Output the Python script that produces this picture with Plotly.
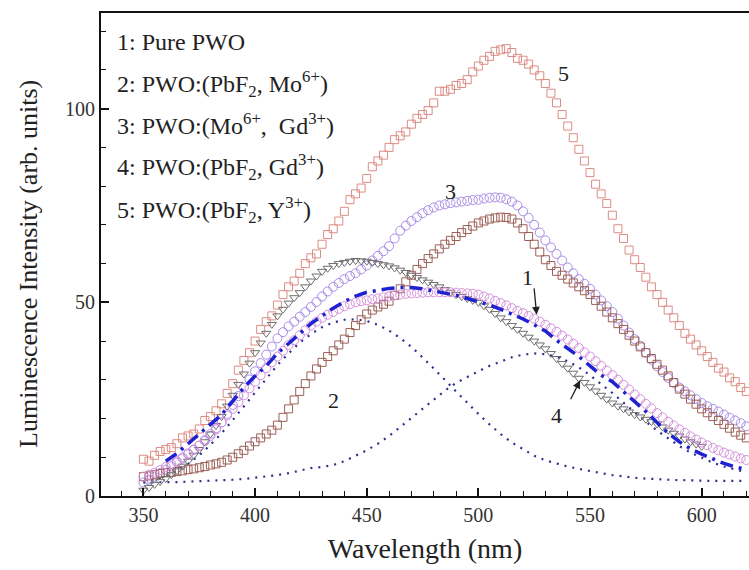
import plotly.graph_objects as go

# ---------------- data ----------------
wavelength = [350 + 2.5 * i for i in range(109)]      # 350 ... 620 nm, 2.5 nm step
wl_pbf2_gd = wavelength[:101]                          # 350 ... 600 nm
wl_coarse = list(range(350, 625, 5))                   # 350 ... 620 nm, 5 nm step
wl_fit = wl_coarse[2:]                                 # 360 ... 620 nm

pbf2_y = [9.5, 9.0, 10.5, 11.5, 12, 12.5, 13.5, 15, 15.5, 16,
          17.3, 19.5, 20.5, 22, 23.8, 26.5, 29, 32.5, 35, 37,
          40, 43, 45, 46.5, 49.3, 52, 54, 55.5, 57.5, 60,
          61.5, 62.5, 65, 67.5, 69, 71, 73.5, 76.5, 78, 79.5,
          82, 85, 86.5, 88, 90, 92, 93, 94, 96, 97.5,
          98.5, 99.5, 101.5, 104.5, 104.5, 105, 106, 106.5, 107.5, 109.5,
          111, 112.5, 113.5, 114.8, 115.2, 115.5, 114.5, 113, 112.5, 111.5,
          110, 108.5, 106.5, 104, 101.5, 98.5, 95.5, 92.5, 89.5, 86.5,
          83.5, 80.5, 78, 75.5, 72.5, 69, 66.5, 63.5, 61, 59,
          56.5, 54, 52, 50, 48, 46, 44, 42, 40.5, 39,
          37.5, 36, 34.5, 33, 32, 30.5, 29.5, 28, 27]

mo_gd = [3.5, 4.2, 5, 5.9, 6.8, 7.7, 8.7, 9.7, 10.8, 11.9,
         13, 14.2, 15.5, 17.2, 19, 21.2, 23.5, 25.8, 28, 30.1,
         32.2, 34.3, 36.5, 38.6, 40.7, 42.3, 43.8, 45, 46.3, 47.5,
         48.8, 50.1, 51.5, 52.8, 54, 55, 56, 56.8, 57.5, 58.5,
         59.5, 60.8, 62, 63.2, 64.5, 66.5, 68.5, 69.8, 71, 72,
         73, 73.8, 74.5, 75, 75.3, 75.6, 75.8, 76, 76.2, 76.4,
         76.5, 76.8, 77, 77.1, 77, 76.6, 76, 75, 73.5, 71.8,
         70, 68, 66, 64.2, 62.5, 60.8, 59, 57.5, 56, 54.8,
         53.5, 52, 50.5, 49, 47.5, 45.8, 44, 42.2, 40.5, 38.8,
         37, 35.2, 33.5, 32, 30.5, 29.2, 28, 27, 26, 25,
         24, 23.2, 22.5, 21.8, 21, 20.2, 19.5, 18.8, 18]

pbf2_mo = [5, 5.2, 5.5, 5.8, 6, 6.1, 6.3, 6.5, 6.8, 7,
           7.3, 7.6, 8, 8.3, 8.7, 9.3, 10, 10.9, 11.8, 12.9,
           14, 15, 16, 17, 18.3, 20.3, 22.5, 24.8, 27, 29,
           31, 32.8, 34.5, 36, 37.5, 39, 40.5, 42.2, 44, 45.5,
           47, 48, 48.8, 49.5, 50.3, 51.8, 53.5, 55.3, 57, 58.5,
           60, 61.3, 62.5, 63.8, 65, 66, 67, 68, 68.8, 69.7,
           70.5, 71, 71.5, 71.8, 72, 71.9, 71.5, 70.5, 69, 67,
           65, 63, 61, 59.5, 58, 57, 56, 55, 54, 53,
           52, 50.5, 49, 47.5, 46, 44.5, 43, 41.5, 40, 38.5,
           37, 35.5, 34, 32.5, 31, 29.3, 27.6, 26.3, 25, 23.7,
           22.5, 21.5, 20.5, 19.5, 18.5, 17.5, 16.5, 15.7, 15]

pbf2_gd = [1.5, 2.2, 3, 3.7, 4.5, 5.5, 6.5, 7.7, 9, 10.5,
           12, 14, 16, 18.2, 20.5, 23.2, 26, 28.8, 31.5, 34.3,
           37, 39.5, 42, 44.3, 46.5, 48.2, 49.8, 51.2, 52.5, 54,
           55.5, 56.8, 58, 58.8, 59.5, 60, 60.3, 60.6, 60.8, 60.7,
           60.6, 60.3, 60, 59.7, 59.4, 58.9, 58.3, 57.7, 57, 56.4,
           55.8, 55.2, 54.6, 54, 53.3, 52.6, 52, 51.5, 51, 50.5,
           50, 49.1, 48.2, 47.1, 46, 45, 44, 43, 42, 41,
           40, 39, 38, 36.8, 35.5, 34.2, 33, 31.7, 30.4, 29.3,
           28.2, 27.1, 26, 25, 24, 23.2, 22.5, 21.7, 21, 20.4,
           19.8, 19.2, 18.6, 17.8, 17, 16.2, 15.5, 14.7, 14, 13.4,
           12.8]

pure_pwo = [5, 5.5, 6, 6.7, 7.5, 8.2, 9, 10, 11, 12,
            13, 14.5, 16, 17.5, 19, 20.8, 22.5, 24.2, 26, 27.8,
            29.5, 31.2, 33, 34.5, 36, 37.5, 39, 40.2, 41.5, 42.8,
            44, 45, 46, 46.8, 47.5, 48.3, 49, 49.5, 50, 50.3,
            50.5, 50.8, 51, 51.3, 51.5, 51.8, 52, 52.2, 52.3, 52.4,
            52.5, 52.6, 52.6, 52.6, 52.6, 52.6, 52.5, 52.4, 52.3, 52.2,
            52, 51.5, 51, 50.4, 49.8, 49.2, 48.5, 47.8, 47.2, 46.5,
            45.8, 45, 44.2, 43.3, 42.4, 41.4, 40.4, 39.3, 38.2, 37.1,
            36, 34.8, 33.6, 32.4, 31.2, 30, 28.7, 27.5, 26.2, 25,
            23.8, 22.6, 21.4, 20.3, 19.2, 18.2, 17.2, 16.3, 15.4, 14.6,
            13.8, 13.1, 12.4, 11.8, 11.2, 10.7, 10.2, 9.7, 9.3]

fit_total = [9, 11, 13.5, 16, 18.5, 21, 24.5, 28, 31, 33.6, 36.8, 39.4, 42, 44.5,
             46.5, 48.5, 50.2, 51.6, 52.6, 53.2, 53.6, 53.8, 53.8, 53.5, 53, 52.5,
             51.8, 51, 50.2, 49.3, 48.2, 47, 45.7, 44.2, 42.6, 40.2, 38.2, 36, 33.6,
             31.2, 29.5, 27, 24.5, 21.8, 19, 16.2, 14, 12.2, 10.8, 9.5, 8.4, 7.5, 6.8]

band_blue = [3.5, 4.2, 5.2, 6.5, 8.3, 10.5, 13.2, 16.2, 19.6, 23.2, 26.8, 30.4, 33.8,
             36.8, 39.6, 41.8, 43.6, 44.8, 45.5, 45.6, 45.2, 44.2, 42.7, 40.8, 38.5,
             35.8, 33, 30, 27, 24, 21.2, 18.5, 16, 13.8, 12, 10.4, 9.2, 8.3, 7.6, 7,
             6.4, 5.9, 5.4, 5, 4.7, 4.5, 4.3, 4.2, 4.1, 4, 4, 3.9, 3.9, 3.9, 3.9]

band_green = [3.5, 3.5, 3.6, 3.6, 3.7, 3.8, 3.9, 4, 4.2, 4.4, 4.7, 5, 5.4, 5.9, 6.5,
              7.2, 7.5, 8, 9, 10.3, 11.8, 13.5, 15.5, 17.8, 20.2, 22.6, 25, 27.2,
              29.2, 30.8, 32.2, 33.6, 34.8, 35.8, 36.5, 36.8, 36.6, 36, 34.8, 33.2,
              31.2, 29, 26.6, 24.1, 21.6, 19.2, 16.9, 14.8, 12.9, 11.2, 9.8, 8.6,
              7.6, 6.8, 6.1]

x_range = [331, 621.2]
y_range = [0, 124.7]

legend_lines = [
    "1: Pure PWO",
    "2: PWO:(PbF<sub>2</sub>, Mo<sup>6+</sup>)",
    "3: PWO:(Mo<sup>6+</sup>,  Gd<sup>3+</sup>)",
    "4: PWO:(PbF<sub>2</sub>, Gd<sup>3+</sup>)",
    "5: PWO:(PbF<sub>2</sub>, Y<sup>3+</sup>)",
]
legend_y = [0.940, 0.854, 0.770, 0.682, 0.592]

curve_labels = ["1", "2", "3", "4", "5"]
label_x = [522.2, 435.0, 487.3, 535.1, 538.0]
label_y = [56.4, 24.6, 78.7, 20.7, 109.2]

FONT = "Liberation Serif"

fig = go.Figure()

# Gaussian components (dotted)
for ys in (band_blue, band_green):
    fig.add_trace(go.Scatter(x=wl_coarse, y=ys, mode="lines",
                             line=dict(color="#2b2f8f", width=2.2, dash="2px,6px")))

series = [
    (wavelength, pbf2_y, "square-open", "#dc8c84", 8),
    (wavelength, mo_gd, "circle-open", "#a88de6", 9),
    (wavelength, pbf2_mo, "square-open", "#9c6058", 8),
    (wl_pbf2_gd, pbf2_gd, "triangle-down-open", "#6e6e6e", 8),
    (wavelength, pure_pwo, "circle-open", "#d590dc", 9),
]
for xs, ys, sym, col, sz in series:
    fig.add_trace(go.Scatter(x=xs, y=ys, mode="markers",
                             marker=dict(symbol=sym, size=sz, color=col,
                                         line=dict(color=col, width=1))))

# fit (dash-dot)
fig.add_trace(go.Scatter(x=wl_fit, y=fit_total, mode="lines",
                         line=dict(color="#1f22d0", width=3.5, dash="13px,6px,3px,6px")))

annotations = []
for txt, yy in zip(legend_lines, legend_y):
    annotations.append(dict(text=txt, xref="paper", yref="paper", x=0.022, y=yy,
                            xanchor="left", yanchor="middle", showarrow=False,
                            font=dict(family=FONT, size=24, color="#222")))
for t, xx, yy in zip(curve_labels, label_x, label_y):
    annotations.append(dict(text=t, x=xx, y=yy, xref="x", yref="y", showarrow=False,
                            font=dict(family=FONT, size=22, color="#222")))
# arrows for 1 and 4
annotations.append(dict(x=526.1, y=46.8, ax=524.9, ay=54.0, xref="x", yref="y",
                        axref="x", ayref="y", text="", showarrow=True, arrowhead=2,
                        arrowsize=1.2, arrowwidth=1.3, arrowcolor="#222"))
annotations.append(dict(x=545.5, y=29.8, ax=541.0, ay=24.6, xref="x", yref="y",
                        axref="x", ayref="y", text="", showarrow=True, arrowhead=2,
                        arrowsize=1.2, arrowwidth=1.3, arrowcolor="#222"))
# y-axis title
annotations.append(dict(text="Luminescence Intensity (arb. units)", textangle=-90,
                        xref="paper", yref="paper", x=-0.113, y=0.48,
                        xanchor="center", yanchor="middle", showarrow=False,
                        font=dict(family=FONT, size=26, color="#222")))

fig.update_layout(
    width=749, height=570,
    margin=dict(l=101, r=0, t=13, b=74, autoexpand=False),
    paper_bgcolor="white", plot_bgcolor="white",
    showlegend=False,
    font=dict(family=FONT, color="#222"),
    annotations=annotations,
)
fig.update_xaxes(
    range=x_range, showgrid=False, zeroline=False,
    showline=True, linecolor="#111", linewidth=2, mirror=True,
    ticks="inside", ticklen=8, tickwidth=1.6, tickcolor="#111",
    tickmode="linear", tick0=350, dtick=50,
    minor=dict(ticks="inside", ticklen=5, tickwidth=1.4, tickcolor="#111",
               dtick=10, tick0=350, showgrid=False),
    tickfont=dict(family=FONT, size=20, color="#333"),
    title=dict(text="Wavelength (nm)", font=dict(family=FONT, size=28, color="#222"),
               standoff=13),
    automargin=False,
)
fig.update_yaxes(
    range=y_range, showgrid=False, zeroline=False,
    showline=True, linecolor="#111", linewidth=2, mirror=False,
    ticks="inside", ticklen=8, tickwidth=1.6, tickcolor="#111",
    tickmode="linear", tick0=0, dtick=50,
    minor=dict(ticks="inside", ticklen=5, tickwidth=1.4, tickcolor="#111",
               dtick=10, tick0=0, showgrid=False),
    tickfont=dict(family=FONT, size=20, color="#333"),
    automargin=False,
)

fig.write_html("out.html")
